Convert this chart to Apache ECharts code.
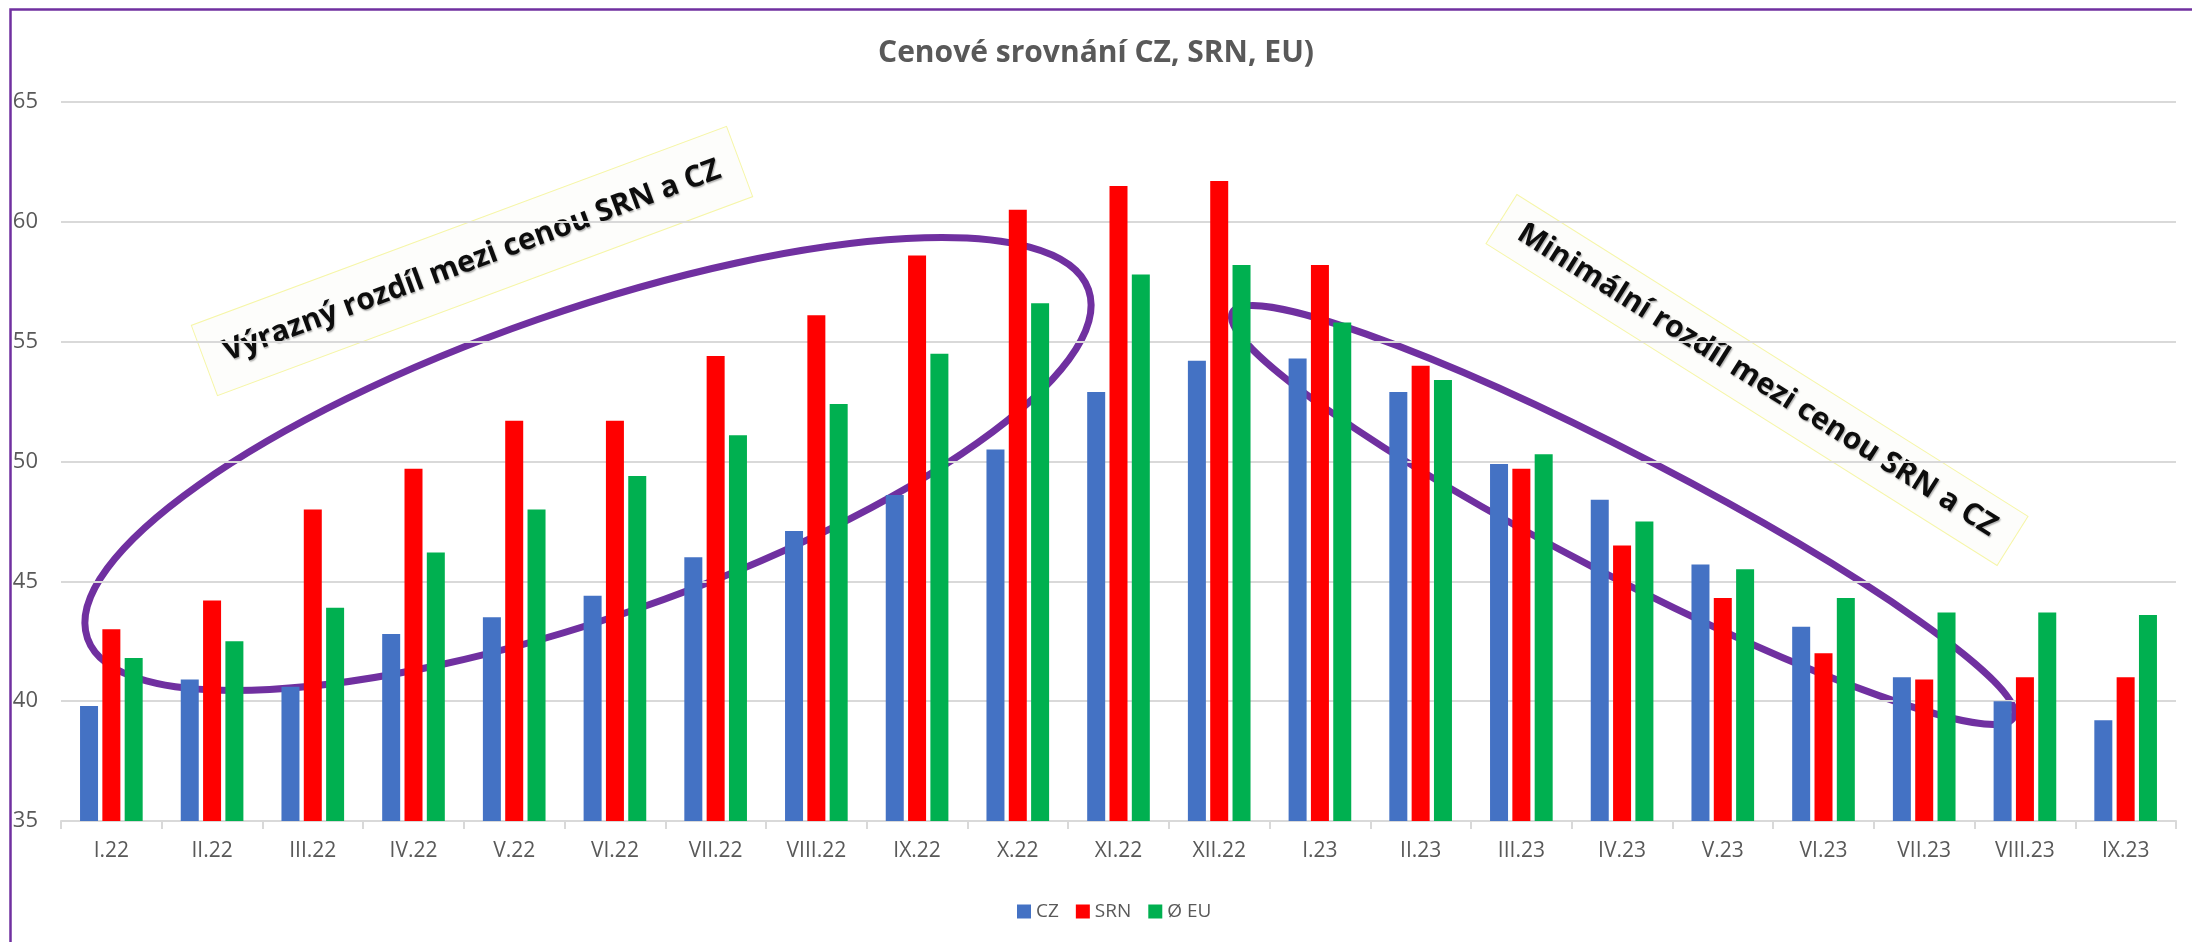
<!DOCTYPE html>
<html>
<head>
<meta charset="utf-8">
<script src="https://cdn.jsdelivr.net/npm/echarts@6/dist/echarts.min.js"></script>
<style>
html,body{margin:0;padding:0;background:#fff;}
#chart{width:2192px;height:942px;}
</style>
</head>
<body>
<div id="chart"></div>
<script>
const categories = ['I.22','II.22','III.22','IV.22','V.22','VI.22','VII.22','VIII.22','IX.22','X.22','XI.22','XII.22','I.23','II.23','III.23','IV.23','V.23','VI.23','VII.23','VIII.23','IX.23'];
const czValues  = [39.8,40.9,40.6,42.8,43.5,44.4,46.0,47.1,48.6,50.5,52.9,54.2,54.3,52.9,49.9,48.4,45.7,43.1,41.0,40.0,39.2];
const srnValues = [43.0,44.2,48.0,49.7,51.7,51.7,54.4,56.1,58.6,60.5,61.5,61.7,58.2,54.0,49.7,46.5,44.3,42.0,40.9,41.0,41.0];
const euValues  = [41.8,42.5,43.9,46.2,48.0,49.4,51.1,52.4,54.5,56.6,57.8,58.2,55.8,53.4,50.3,47.5,45.5,44.3,43.7,43.7,43.6];
const seriesNames = ['CZ','SRN','Ø EU'];
const titleText = 'Cenové srovnání CZ, SRN, EU)';
const note1 = 'Výrazný rozdíl mezi cenou SRN a CZ';
const note2 = 'Minimální rozdíl mezi cenou SRN a CZ';

const FONT = '"Open Sans", sans-serif';
const GREY = '#595959';
const PURPLE = '#7030A0';
const deg = Math.PI / 180;

function noteBox(cx, cy, w, h, angle, text) {
  return {
    type: 'group', x: cx, y: cy, rotation: angle * deg, z: 110,
    children: [
      { type: 'rect', shape: { x: -w / 2, y: -h / 2, width: w, height: h },
        style: { fill: '#FDFDFB', stroke: '#F6F6A8', lineWidth: 1 } },
      { type: 'text', x: 0, y: 0,
        style: { text: text, fill: '#0d0d0d', font: 'bold 30px "Open Sans", sans-serif',
                 align: 'center', verticalAlign: 'middle',
                 textShadowColor: 'rgba(0,0,0,0.3)', textShadowBlur: 1.5,
                 textShadowOffsetX: 1, textShadowOffsetY: 1.5 } }
    ]
  };
}
function ring(cx, cy, rx, ry, angle) {
  return {
    type: 'group', x: cx, y: cy, rotation: angle * deg, z: 120,
    children: [
      { type: 'ellipse', shape: { cx: 0, cy: 0, rx: rx, ry: ry },
        style: { fill: null, stroke: PURPLE, lineWidth: 7 } }
    ]
  };
}

const chart = echarts.init(document.getElementById('chart'), null, { renderer: 'canvas' });
chart.setOption({
  animation: false,
  backgroundColor: '#fff',
  textStyle: { fontFamily: FONT },
  title: {
    text: titleText, left: 'center', top: 33,
    textStyle: { fontFamily: FONT, fontSize: 30, fontWeight: 'bold', color: GREY }
  },
  legend: {
    top: 897, left: 1012, itemWidth: 14, itemHeight: 14, itemGap: 17,
    icon: 'rect',
    textStyle: { fontFamily: FONT, fontSize: 19, color: GREY },
    data: seriesNames
  },
  grid: { left: 61, right: 16, top: 102, bottom: 121, containLabel: false },
  xAxis: {
    type: 'category', data: categories,
    axisLine: { lineStyle: { color: '#D9D9D9', width: 2 } },
    axisTick: { show: true, length: 8, lineStyle: { color: '#D9D9D9', width: 2 } },
    axisLabel: { margin: 20, color: GREY, fontFamily: FONT, fontSize: 21, interval: 0 }
  },
  yAxis: {
    type: 'value', min: 35, max: 65, interval: 5,
    axisLine: { show: false }, axisTick: { show: false },
    splitLine: { lineStyle: { color: '#D9D9D9', width: 2 } },
    axisLabel: { margin: 23, color: GREY, fontFamily: FONT, fontSize: 22 }
  },
  series: [
    { name: seriesNames[0], type: 'bar', data: czValues, barWidth: 18, barGap: '24%',
      itemStyle: { color: '#4472C4' } },
    { name: seriesNames[1], type: 'bar', data: srnValues, barWidth: 18, barGap: '24%',
      itemStyle: { color: '#FF0000' } },
    { name: seriesNames[2], type: 'bar', data: euValues, barWidth: 18, barGap: '24%',
      itemStyle: { color: '#00B050' } }
  ],
  graphic: [
    { type: 'rect', z: 130, shape: { x: 10.5, y: 9.5, width: 3000, height: 3000 },
      style: { fill: null, stroke: PURPLE, lineWidth: 2.5 } },
    noteBox(472, 261, 571, 75, 20.4, note1),
    noteBox(1757, 380, 604, 58, -32.2, note2),
    ring(588, 464, 530, 153, 19.2),
    ring(1623, 515, 440, 60, -27.4)
  ]
});
</script>
</body>
</html>
